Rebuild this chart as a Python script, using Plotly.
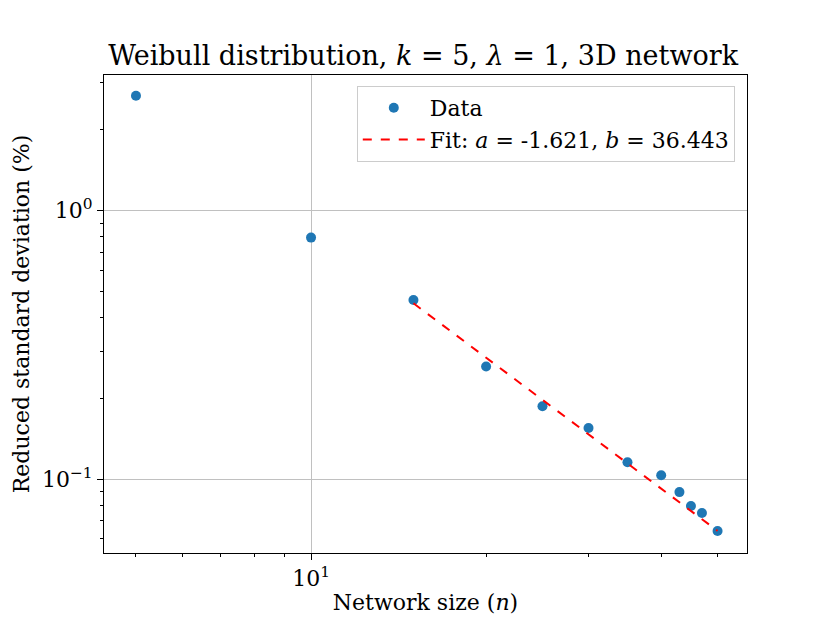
import plotly.graph_objects as go

# Data
n_values = [5, 10, 15, 20, 25, 30, 35, 40, 43, 45, 47, 50]
std_values = [2.68, 0.794, 0.465, 0.263, 0.187, 0.155, 0.1157, 0.1035, 0.0895, 0.0794, 0.0748, 0.0641]

# Power-law fit y = b * n^a, drawn over the fitted range
fit_a = -1.621
fit_b = 36.443
fit_n = [15, 50]
fit_y = [fit_b * n ** fit_a for n in fit_n]

font_family = "DejaVu Serif"

fig = go.Figure()

fig.add_trace(
    go.Scatter(
        x=n_values,
        y=std_values,
        mode="markers",
        name="Data",
        marker=dict(color="#1f77b4", size=10),
    )
)

fig.add_trace(
    go.Scatter(
        x=fit_n,
        y=fit_y,
        mode="lines",
        name="Fit: <i>a</i> = -1.621, <i>b</i> = 36.443",
        line=dict(color="red", width=2, dash="dash"),
    )
)

# the page body adds an 8px offset, so the figure is a bit smaller
fig.update_layout(
    width=822,
    height=615,
    paper_bgcolor="white",
    plot_bgcolor="white",
    font=dict(family=font_family, size=22, color="black"),
    margin=dict(l=94, r=83, t=67, b=69),
    title=dict(
        text="Weibull distribution, <i>k</i> = 5, <i>λ</i> = 1, 3D network",
        font=dict(size=27),
        x=0.505,
        xanchor="center",
        yref="container",
        y=0.922,
        yanchor="middle",
    ),
    showlegend=True,
    legend=dict(
        x=0.981,
        y=0.977,
        xanchor="right",
        yanchor="top",
        bgcolor="rgba(255,255,255,0.8)",
        bordercolor="#cccccc",
        borderwidth=1,
        font=dict(size=22),
        itemwidth=62,
        tracegroupgap=0,
    ),
)

fig.update_xaxes(
    type="log",
    range=[0.644, 1.7496],
    title=dict(text="Network size (<i>n</i>)", font=dict(size=22), standoff=4),
    tickvals=[10],
    ticktext=["10<sup>1</sup>"],
    tickfont=dict(size=22),
    ticks="outside",
    ticklen=6,
    tickwidth=1,
    tickcolor="black",
    showgrid=True,
    gridcolor="#c0c0c0",
    gridwidth=1,
    showline=True,
    linecolor="black",
    linewidth=1,
    mirror=True,
    zeroline=False,
    minor=dict(
        tickvals=[5, 6, 7, 8, 9, 20, 30, 40, 50],
        ticks="outside",
        ticklen=3,
        tickcolor="black",
        showgrid=False,
    ),
)

fig.update_yaxes(
    type="log",
    range=[-1.275, 0.5056],
    title=dict(text="Reduced standard deviation (%)", font=dict(size=22), standoff=6),
    tickvals=[0.1, 1],
    ticktext=["10<sup>−1</sup>", "10<sup>0</sup>"],
    tickfont=dict(size=22),
    ticks="outside",
    ticklen=6,
    tickwidth=1,
    tickcolor="black",
    showgrid=True,
    gridcolor="#c0c0c0",
    gridwidth=1,
    showline=True,
    linecolor="black",
    linewidth=1,
    mirror=True,
    zeroline=False,
    minor=dict(
        tickvals=[0.06, 0.07, 0.08, 0.09, 0.2, 0.3, 0.4, 0.5, 0.6, 0.7, 0.8, 0.9, 2, 3],
        ticks="outside",
        ticklen=3,
        tickcolor="black",
        showgrid=False,
    ),
)

fig.write_html("out.html")
